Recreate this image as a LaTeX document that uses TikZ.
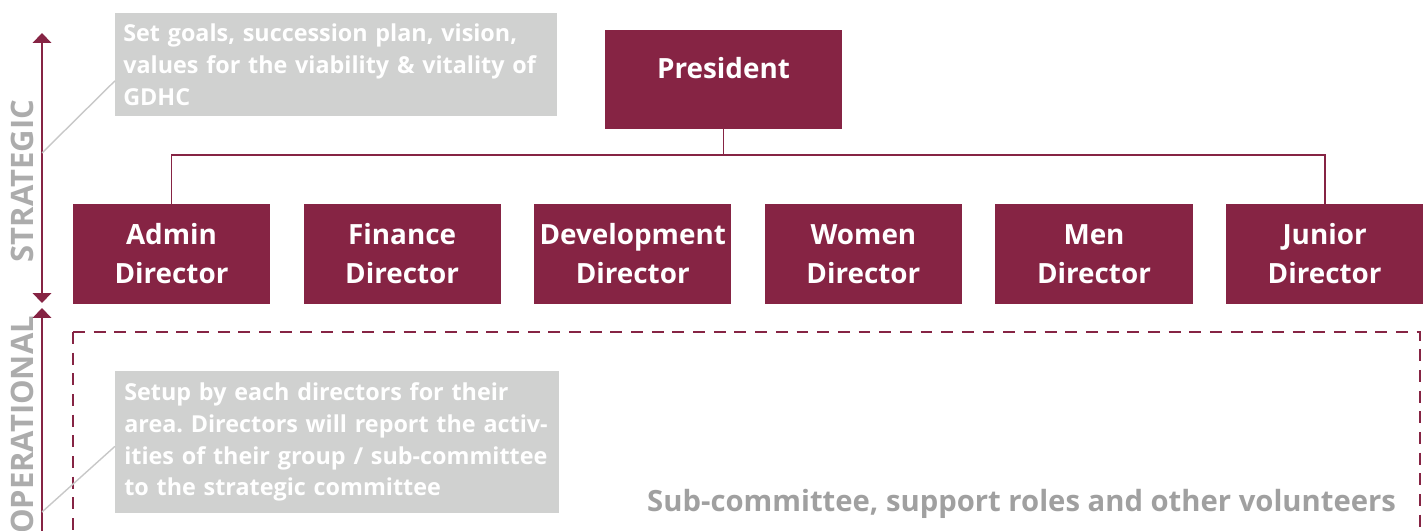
\documentclass[tikz,border=0pt]{standalone}
\usepackage{fontspec}
\setmainfont{Open Sans}
\frenchspacing
\usetikzlibrary{arrows.meta,calc,positioning}
\definecolor{roleColor}{RGB}{134,36,68}
\definecolor{noteColor}{RGB}{208,209,208}
\definecolor{levelColor}{RGB}{172,172,172}
\definecolor{leadColor}{RGB}{200,200,200}
\definecolor{subColor}{RGB}{160,160,160}
\tikzset{role/.append style={fill=roleColor, text=white, align=center, minimum width=4.925cm, minimum height=2.5cm, inner sep=0pt, font=\bfseries\fontsize{19.8}{27.7}\selectfont}}
\tikzset{note/.append style={fill=noteColor, text=white, align=left, anchor=north west, inner xsep=0.2cm, inner ysep=0pt, text width=10.65cm, font=\bfseries\fontsize{16.6}{22.5}\selectfont}}
\tikzset{level/.append style={text=levelColor, rotate=90, font=\bfseries\fontsize{22}{22}\selectfont}}

\begin{document}
\begin{tikzpicture}[x=0.025cm, y=-0.025cm, node distance=0.3cm and 0.825cm]
    \useasboundingbox (0,0) rectangle (1426,531);

    % Nodes
    \node (pres) [role, minimum width=5.925cm, minimum height=2.475cm, text depth=0.6cm] at (723.5,79.5) {President};
    \node (d1) [role] at (171.5,254) {Admin\\Director};
    \node (d2) [role, right=of d1] {Finance\\Director};
    \node (d3) [role, right=of d2] {Development\\Director};
    \node (d4) [role, right=of d3] {Women\\Director};
    \node (d5) [role, right=of d4] {Men\\Director};
    \node (d6) [role, right=of d5] {Junior\\Director};

    \node (goalnote) [note, minimum width=11.05cm, minimum height=2.575cm] at (115,13) {Set goals, succession plan, vision,\\values for the viability \& vitality of\\GDHC};
    \node (setupnote) [note, minimum width=11.1cm, minimum height=3.55cm] at (115,371) {Setup by each directors for their\\area. Directors will report the activ-\\ities of their group / sub-committee\\to the strategic committee};

    \node (strat) [level] at (22,181) {STRATEGIC};
    \node (oper) [level] at (22,425) {OPERATIONAL};

    \node (subnote) [anchor=base east, text=subColor, font=\bfseries\fontsize{20.8}{20.8}\selectfont] at (1401,511) {Sub-committee, support roles and other volunteers};

    \coordinate (s0) at (42,33);
    \coordinate (s1) at (42,303);
    \coordinate (o0) at (42,308);
    \coordinate (o1) at (42,548);
    \coordinate (sl) at (42,153);
    \coordinate (ol) at (42,512);

    % Connectors
    \begin{scope}[roleColor, line width=1.4pt]
        \draw (pres.south) -- ++(0,26) -| (d1.north);
        \draw (pres.south) -- ++(0,26) -| (d6.north);
        \draw [{Triangle[width=13pt,length=7pt]}-{Triangle[width=13pt,length=7pt]}] (s0) -- (s1);
        \draw [{Triangle[width=13pt,length=7pt]}-{Triangle[width=13pt,length=7pt]}] (o0) -- (o1);
        \draw [line width=1.8pt, dash pattern=on 8.5pt off 6.2pt] (73,332) -- (1420,332) -- (1420,560);
        \draw [line width=1.8pt, dash pattern=on 8.5pt off 6.2pt] (73,332) -- (73,560);
    \end{scope}

    \draw [leadColor, line width=1pt] (sl) -- ([yshift=-0.4cm]goalnote.west);
    \draw [leadColor, line width=1pt] (ol) -- ([yshift=-0.1cm]setupnote.west);

\end{tikzpicture}
\end{document}
